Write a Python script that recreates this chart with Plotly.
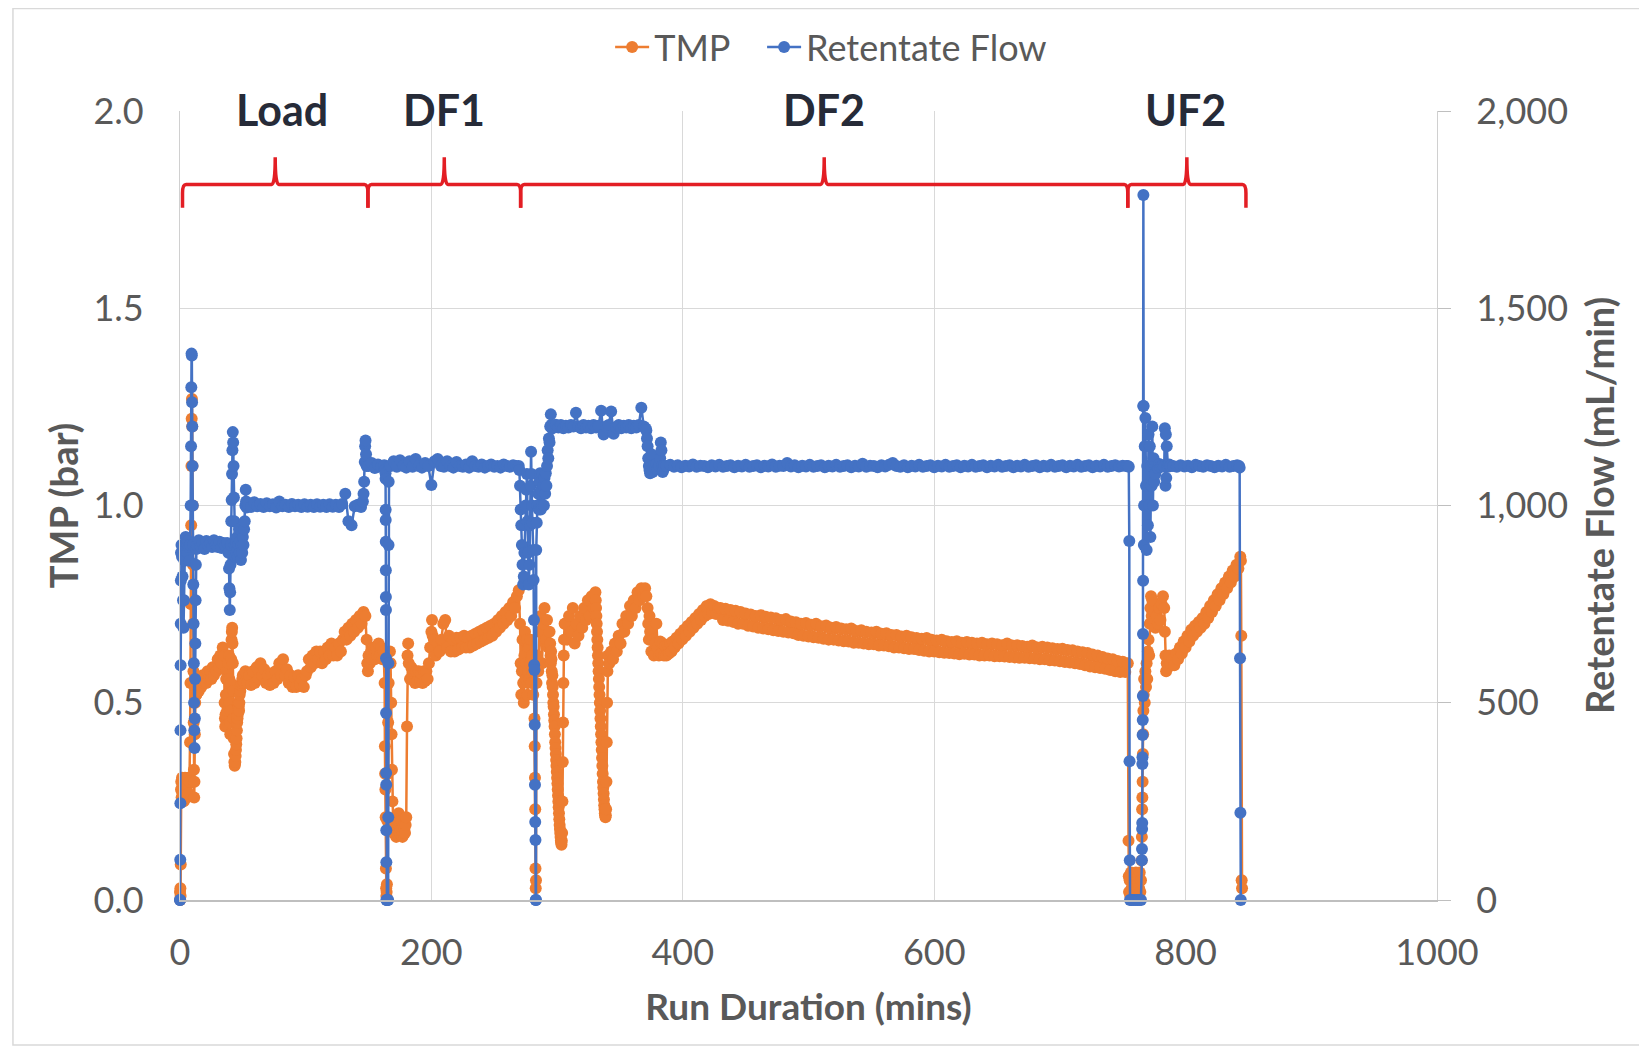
import plotly.graph_objects as go

# ---------------- data ----------------
# TMP (bar): explicit (time, value) pieces and regularly sampled pieces (start, step, values)
TMP_START_PTS = [(0, 0.02), (0.15, 0.0), (0.3, 0.03), (0.45, 0.01), (0.6, 0.09), (0.8, 0.28), (1.0, 0.30), (1.3, 0.26),
                 (1.6, 0.31), (2, 0.27), (2.5, 0.30), (3, 0.25), (3.5, 0.29), (4, 0.31), (4.5, 0.27), (5, 0.30),
                 (5.5, 0.26), (6, 0.29), (6.5, 0.31), (7, 0.27), (7.5, 0.3), (8, 0.4), (8.3, 0.55), (8.6, 0.75),
                 (8.9, 0.95), (9.1, 1.1), (9.3, 1.22), (9.5, 1.27), (9.7, 1.2), (9.9, 1.1), (10.1, 1.0), (10.3, 0.85),
                 (10.5, 0.7), (10.7, 0.58), (10.9, 0.45), (11.1, 0.33), (11.3, 0.26), (11.5, 0.3), (11.8, 0.42),
                 (12.1, 0.5), (12.4, 0.54), (12.8, 0.52)]
TMP_LOAD_A = (13, 1, [0.52, 0.55, 0.53, 0.56, 0.54, 0.57, 0.55, 0.57, 0.55, 0.58, 0.56, 0.58, 0.56, 0.59, 0.57, 0.59,
                      0.58, 0.61, 0.59, 0.62, 0.6, 0.64, 0.62])
TMP_LOAD_DIP = [(35.5, 0.5), (35.75, 0.46), (36, 0.44), (36.25, 0.47), (36.5, 0.52), (36.75, 0.56), (37, 0.58),
                (37.25, 0.52), (37.5, 0.48), (37.75, 0.52), (38, 0.56), (38.5, 0.6), (39, 0.62), (39.25, 0.56),
                (39.5, 0.5), (39.75, 0.45), (40, 0.42), (40.25, 0.48), (40.5, 0.55), (40.75, 0.61), (41, 0.66),
                (41.25, 0.68), (41.5, 0.69), (41.75, 0.65), (42, 0.6), (42.25, 0.53), (42.5, 0.46), (42.75, 0.41),
                (43, 0.37), (43.25, 0.35), (43.5, 0.34), (43.75, 0.345), (44, 0.35), (44.25, 0.365), (44.5, 0.38),
                (44.75, 0.395), (45, 0.41), (45.25, 0.43), (45.5, 0.45), (45.75, 0.46), (46, 0.47), (46.25, 0.49),
                (46.5, 0.5), (46.75, 0.49), (47, 0.48), (47.25, 0.5), (47.5, 0.52), (48, 0.53), (48.5, 0.545),
                (49, 0.55), (49.5, 0.56), (50, 0.57), (50.5, 0.56), (51, 0.55)]
TMP_LOAD_B = (52, 1.5, [0.58, 0.55, 0.57, 0.545, 0.58, 0.55, 0.59, 0.56, 0.60, 0.57, 0.585, 0.55, 0.57, 0.545, 0.575,
                        0.55, 0.58, 0.56, 0.60, 0.57, 0.61, 0.57, 0.585, 0.55, 0.57, 0.54, 0.565, 0.54, 0.57, 0.545,
                        0.56, 0.54, 0.57])
TMP_LOAD_C = (101, 1.5, [0.58, 0.61, 0.59, 0.62, 0.60, 0.63, 0.61, 0.63, 0.60, 0.63, 0.61, 0.64, 0.62, 0.65, 0.62, 0.64,
                         0.62, 0.65, 0.63, 0.66, 0.68, 0.66, 0.69, 0.67, 0.70, 0.68, 0.71, 0.69, 0.72, 0.70, 0.73, 0.72])
TMP_DF1_A = [(148.5, 0.66), (149, 0.60), (149.5, 0.58), (150, 0.62), (151, 0.60), (152, 0.63), (153, 0.61), (154, 0.64),
             (155, 0.61), (156, 0.64), (157, 0.62), (158, 0.65), (159, 0.62), (160, 0.64), (161, 0.61), (162, 0.63)]
TMP_DF1_DROP = [(162.8, 0.55), (163, 0.39), (163.2, 0.32), (163.4, 0.28), (163.6, 0.21), (163.8, 0.08), (164, 0.03),
                (164.2, 0.01), (164.4, 0.02), (164.6, 0.04), (165, 0.2), (165.3, 0.32), (165.6, 0.45), (166, 0.55),
                (166.5, 0.6), (167, 0.63), (167.5, 0.6), (168, 0.5), (168.3, 0.42), (168.6, 0.33), (169, 0.25),
                (169.5, 0.2), (170, 0.17), (170.5, 0.19), (171, 0.21), (171.5, 0.18), (172, 0.16), (172.5, 0.18),
                (173, 0.19), (173.5, 0.21), (174, 0.22), (174.5, 0.19), (175, 0.17), (175.5, 0.18), (176, 0.2),
                (176.5, 0.18), (177, 0.16), (177.5, 0.17), (178, 0.19), (178.5, 0.18), (179, 0.17), (179.5, 0.19),
                (180, 0.21), (180.6, 0.44), (181, 0.62), (181.5, 0.65),
                (182, 0.60), (183, 0.56), (184, 0.59), (185, 0.56), (186, 0.58), (187, 0.55), (188, 0.58), (189, 0.555),
                (190, 0.58), (191, 0.555), (192, 0.575), (193, 0.55), (194, 0.58), (195, 0.555), (196, 0.58),
                (197, 0.56), (198, 0.6), (199, 0.64), (200, 0.68), (200.5, 0.71), (201, 0.67)]
TMP_DF1_B = (202, 1.5, [0.66, 0.62, 0.65, 0.63, 0.66, 0.70, 0.71, 0.64, 0.67, 0.63, 0.66, 0.63, 0.665, 0.635, 0.665,
                        0.64, 0.67, 0.64, 0.665, 0.64, 0.67, 0.645, 0.675, 0.65, 0.68, 0.655, 0.685, 0.66, 0.69, 0.665,
                        0.695, 0.67, 0.70, 0.68, 0.71, 0.69, 0.72, 0.70, 0.73, 0.71, 0.74, 0.72, 0.755, 0.74, 0.77,
                        0.785])
TMP_DF2_START = [(270.5, 0.7), (271, 0.6), (271.5, 0.52), (272, 0.58), (272.5, 0.66), (273, 0.55), (273.5, 0.50),
                 (274, 0.62), (274.5, 0.68), (275, 0.56), (275.5, 0.6), (276, 0.66), (276.5, 0.52), (277, 0.58),
                 (277.5, 0.64), (278, 0.56), (278.5, 0.6), (279, 0.66), (279.5, 0.55), (280, 0.62), (280.5, 0.58),
                 (281, 0.52), (281.5, 0.6), (282, 0.46), (282.2, 0.39), (282.4, 0.31), (282.6, 0.23), (282.8, 0.08),
                 (283, 0.03), (283.2, 0.05), (283.6, 0.55), (284, 0.62), (285, 0.58), (286, 0.68), (287, 0.72),
                 (288, 0.6), (289, 0.7), (290, 0.74), (291, 0.66), (292, 0.71), (293, 0.64), (294, 0.68)]
TMP_DF2_DIP1 = [(294.5, 0.65), (294.75, 0.62), (295, 0.60), (295.25, 0.63), (295.5, 0.61), (295.75, 0.58),
                (296, 0.55), (296.25, 0.57), (296.5, 0.54), (296.75, 0.52), (297, 0.50), (297.25, 0.49),
                (297.5, 0.47), (297.75, 0.455), (298, 0.44), (298.25, 0.42), (298.5, 0.40), (298.75, 0.385),
                (299, 0.37), (299.25, 0.355), (299.5, 0.34), (299.75, 0.325), (300, 0.31), (300.25, 0.295),
                (300.5, 0.28), (300.75, 0.265), (301, 0.25), (301.25, 0.235), (301.5, 0.22), (301.75, 0.205),
                (302, 0.19), (302.25, 0.18), (302.5, 0.17), (302.75, 0.16), (303, 0.15), (303.25, 0.145),
                (303.5, 0.14), (303.75, 0.15), (304, 0.17), (304.25, 0.25), (304.5, 0.35), (304.75, 0.45),
                (305, 0.55), (305.25, 0.62), (305.5, 0.66), (306, 0.70)]
TMP_DF2_A = (306.5, 1.5, [0.70, 0.66, 0.72, 0.68, 0.74, 0.65, 0.70, 0.67, 0.72, 0.69, 0.74, 0.71, 0.76, 0.72, 0.77,
                          0.74])
TMP_DF2_DIP2 = [(330.5, 0.78), (330.75, 0.76), (331, 0.74), (331.25, 0.72), (331.5, 0.70), (331.75, 0.68),
                (332, 0.66), (332.25, 0.64), (332.5, 0.62), (332.75, 0.60), (333, 0.58), (333.25, 0.56),
                (333.5, 0.54), (333.75, 0.52), (334, 0.50), (334.25, 0.48), (334.5, 0.46), (334.75, 0.44),
                (335, 0.42), (335.25, 0.40), (335.5, 0.38), (335.75, 0.36), (336, 0.34), (336.25, 0.32),
                (336.5, 0.30), (336.75, 0.285), (337, 0.27), (337.25, 0.255), (337.5, 0.24), (337.75, 0.23),
                (338, 0.22), (338.25, 0.215), (338.5, 0.21), (338.75, 0.215), (339, 0.23), (339.25, 0.3),
                (339.5, 0.4), (339.75, 0.5), (340, 0.58), (340.5, 0.62)]
TMP_DF2_B = (341.5, 1.5, [0.60, 0.63, 0.61, 0.65, 0.63, 0.67, 0.65, 0.70, 0.68, 0.72, 0.70, 0.745, 0.72, 0.76, 0.74,
                          0.78, 0.76, 0.79, 0.77, 0.79])
TMP_DF2_STEP = [(371, 0.77), (372, 0.74), (372.5, 0.70), (373, 0.66), (373.5, 0.72), (374, 0.68), (375, 0.63),
                (376, 0.66), (377, 0.62), (378, 0.65), (379, 0.70), (380, 0.64), (381, 0.62), (382, 0.655),
                (383, 0.625), (384, 0.65), (385, 0.62), (386, 0.645), (387, 0.62), (388, 0.645), (389, 0.625),
                (390, 0.65), (391, 0.63), (392, 0.655)]
TMP_DF2_C = (393.5, 1.5, [0.64, 0.665, 0.65, 0.675, 0.66, 0.685, 0.67, 0.695, 0.68, 0.705, 0.69, 0.715, 0.70, 0.725,
                          0.71, 0.735, 0.72, 0.745, 0.725, 0.75, 0.73, 0.745, 0.725, 0.74])
TMP_DF2_D = (430, 2, [0.74, 0.71, 0.738, 0.708, 0.735, 0.705, 0.733, 0.70, 0.73, 0.70,
                      0.726, 0.695, 0.724, 0.693, 0.72, 0.69, 0.722, 0.688, 0.718, 0.686,
                      0.716, 0.684, 0.714, 0.682, 0.71, 0.68, 0.712, 0.678, 0.706, 0.676,
                      0.704, 0.672, 0.70, 0.67, 0.702, 0.668, 0.698, 0.666, 0.70, 0.665,
                      0.694, 0.662, 0.696, 0.66, 0.69, 0.66, 0.692, 0.658, 0.688, 0.656,
                      0.686, 0.655, 0.688, 0.652, 0.682, 0.652, 0.684, 0.65, 0.68, 0.648,
                      0.678, 0.648, 0.68, 0.645, 0.675, 0.645, 0.676, 0.643, 0.672, 0.64,
                      0.672, 0.64, 0.668, 0.638, 0.67, 0.636, 0.666, 0.636, 0.664, 0.634,
                      0.662, 0.632, 0.664, 0.63, 0.66, 0.63, 0.658, 0.628, 0.66, 0.627,
                      0.656, 0.626, 0.654, 0.625, 0.656, 0.623, 0.652, 0.624, 0.654, 0.622,
                      0.652, 0.622, 0.65, 0.62, 0.652, 0.62, 0.648, 0.62, 0.65, 0.618,
                      0.648, 0.618, 0.646, 0.617, 0.65, 0.616, 0.645, 0.615, 0.646, 0.614,
                      0.644, 0.614, 0.642, 0.613, 0.645, 0.612, 0.64, 0.61, 0.642, 0.61,
                      0.64, 0.608, 0.638, 0.607, 0.636, 0.605, 0.637, 0.603, 0.634, 0.602,
                      0.633, 0.60, 0.63, 0.598, 0.628, 0.595, 0.626, 0.592, 0.622, 0.59,
                      0.62, 0.588, 0.616, 0.586, 0.612, 0.583, 0.61, 0.58, 0.606, 0.578,
                      0.604, 0.578, 0.60])
TMP_UF2_START = [(754.6, 0.15), (754.8, 0.06), (755, 0.02), (755.5, 0.05), (756, 0.01), (756.5, 0.07), (757, 0.03),
                 (757.5, 0.06), (758, 0.02), (758.5, 0.05), (759, 0.01), (759.5, 0.06), (760, 0.03), (760.5, 0.07),
                 (761, 0.02), (761.5, 0.05), (762, 0.01), (762.5, 0.06), (763, 0.03), (763.5, 0.07), (764, 0.02),
                 (764.5, 0.05), (765, 0.1), (765.2, 0.16), (765.4, 0.23), (765.6, 0.26), (765.8, 0.30), (766, 0.37),
                 (766.2, 0.42), (766.4, 0.48), (766.7, 0.52), (767, 0.56), (767.5, 0.50), (768, 0.58), (768.5, 0.54),
                 (769, 0.60), (769.5, 0.56), (770, 0.63), (770.5, 0.66), (771, 0.62), (771.5, 0.70), (772, 0.74),
                 (772.5, 0.77), (773, 0.72), (773.5, 0.76), (774, 0.70), (775, 0.73), (776, 0.69), (777, 0.72),
                 (778, 0.70), (779, 0.74), (780, 0.71), (781, 0.75), (782, 0.77), (783, 0.74), (783.5, 0.68),
                 (784, 0.62), (784.5, 0.58), (785, 0.6), (786, 0.59), (787, 0.62), (788, 0.60)]
TMP_UF2_A = (789.5, 1.5, [0.61, 0.595, 0.625, 0.61, 0.64, 0.625, 0.655, 0.64, 0.67, 0.655, 0.685, 0.67, 0.695, 0.68,
                          0.705, 0.69, 0.715, 0.70, 0.73, 0.715, 0.745, 0.73, 0.76, 0.745, 0.775, 0.76, 0.79, 0.775,
                          0.805, 0.79, 0.82, 0.805, 0.835, 0.82, 0.85, 0.84, 0.87])
TMP_END = [(844, 0.86), (844.3, 0.67), (844.6, 0.05), (844.9, 0.03)]

# Retentate flow (mL/min)
FLOW_START_PTS = [(0, 0), (0.1, 0), (0.2, 102), (0.3, 245), (0.4, 430), (0.5, 595), (0.6, 700), (0.7, 810),
                  (0.8, 880), (1.2, 900), (1.6, 870), (2, 820), (2.4, 760), (2.8, 690), (3.2, 760), (3.6, 860),
                  (4, 900), (4.5, 920), (5, 890), (5.5, 905), (6, 880), (6.5, 910), (7, 895), (7.5, 860), (8, 900),
                  (8.5, 1000), (8.8, 1150), (9, 1300), (9.2, 1385), (9.4, 1380), (9.6, 1262), (9.8, 1200),
                  (10, 1100), (10.2, 1000), (10.4, 900), (10.6, 800), (10.8, 700), (11, 600), (11.2, 500),
                  (11.4, 430), (11.6, 385), (11.8, 460), (12, 560), (12.2, 650), (12.4, 760), (12.6, 850), (13, 890)]
FLOW_LOAD_A = (13.5, 1.5, [900, 912, 895, 905, 890, 910, 898, 905, 895, 912, 900, 895, 908, 892, 905, 898, 905])
FLOW_LOAD_SPIKE = [(38.5, 880), (39, 840), (39.3, 790), (39.6, 735), (39.9, 780), (40.2, 850), (40.5, 900),
                   (40.8, 960), (41.1, 1014), (41.4, 1080), (41.7, 1140), (42, 1186), (42.3, 1160), (42.6, 1100),
                   (42.9, 1020), (43.2, 960), (43.5, 900), (44, 870), (44.5, 905), (45, 880), (45.5, 920), (46, 870),
                   (46.5, 900), (47, 940), (47.5, 880), (48, 910), (48.5, 862), (49, 900), (49.5, 880), (50, 920),
                   (50.5, 900), (51, 940), (51.5, 960), (52, 1000), (52.3, 1040), (52.6, 1010), (53, 995)]
FLOW_LOAD_B = (54, 2.5, [1002, 996, 1008, 998, 1004, 996, 1006, 998, 1003, 995, 1010, 998, 1002, 996, 1004, 998,
                         1002, 996, 1003, 997, 1002, 996, 1003, 997, 1002, 996, 1003, 997, 1002, 996, 1004, 1030,
                         960, 950, 998, 1002, 996])
FLOW_STEP_UP = [(145.5, 1010), (146, 1030), (146.5, 1060), (147, 1110), (147.3, 1150), (147.6, 1165), (148, 1130),
                (148.5, 1100)]
FLOW_DF1_A = (150, 2.5, [1100, 1108, 1095, 1104, 1098, 1102])
FLOW_DF1_DROP = [(163, 1090), (163.5, 1082), (163.55, 1068), (163.6, 989), (163.65, 963), (163.7, 908), (163.75, 836),
                 (163.8, 768), (163.85, 735), (163.9, 613), (163.95, 474), (164.0, 322), (164.05, 292),
                 (164.1, 177), (164.15, 96), (164.2, 0), (164.6, 0), (165.0, 0), (165.6, 0), (165.7, 210),
                 (165.8, 600), (165.9, 900), (166.0, 1060), (166.3, 1100)]
FLOW_DF1_B = (167.5, 2.5, [1100, 1112, 1098, 1115, 1100, 1096, 1112, 1098, 1118, 1100, 1096, 1108, 1100, 1052, 1112,
                           1118, 1100, 1098, 1112, 1100, 1096, 1110, 1100, 1098, 1104, 1096, 1112, 1100, 1098, 1104,
                           1096, 1100, 1104, 1098, 1100, 1096, 1104, 1100, 1098, 1102, 1100])
FLOW_DF2_START = [(269.5, 1100), (270, 1090), (270.5, 1050), (271, 990), (271.5, 950), (272, 900), (272.5, 850),
                  (273, 800), (273.5, 820), (274, 880), (274.5, 950), (275, 1000), (275.5, 1040), (276, 1080),
                  (276.5, 960), (277, 880), (277.5, 800), (278, 850), (278.5, 950), (279, 1050), (279.3, 1136),
                  (279.6, 1080), (280, 1000), (280.5, 956), (281, 887), (281.3, 811), (281.6, 710), (281.8, 596),
                  (282, 583), (282.2, 444), (282.4, 292), (282.6, 198), (282.8, 152), (283, 0), (283.2, 0),
                  (283.4, 887), (283.8, 956), (284.3, 1000), (285, 1030), (285.5, 990), (286, 1060), (286.5, 1082),
                  (287, 990), (287.5, 1040), (288, 1000), (288.5, 1080), (289, 1050), (289.5, 1000), (290, 1070),
                  (290.5, 1030), (291, 1082), (291.5, 1050), (292, 1100), (292.5, 1140), (293, 1120), (293.5, 1170),
                  (294, 1160), (294.5, 1200), (295, 1231), (295.5, 1205), (296, 1195)]
FLOW_DF2_A = (297, 2, [1200, 1205, 1198, 1204, 1196, 1202, 1198, 1204, 1200, 1235,
                       1200, 1196, 1204, 1198, 1202, 1196, 1204, 1198, 1202, 1240,
                       1180, 1200, 1204, 1238, 1182, 1198, 1204, 1196, 1202, 1198,
                       1204, 1196, 1202, 1198, 1204, 1248, 1200])
FLOW_DF2_STEP = [(370.5, 1195), (371, 1190), (371.5, 1170), (372, 1150), (372.5, 1120), (373, 1100), (373.5, 1090),
                 (374, 1082), (374.5, 1110), (375, 1130), (375.5, 1100), (376, 1085), (376.5, 1090), (377, 1100),
                 (378, 1095), (379, 1105), (380, 1092), (381, 1100), (382, 1120), (382.5, 1160), (383, 1140),
                 (383.5, 1100), (384, 1085), (384.5, 1090), (385, 1100)]
FLOW_DF2_B = (387, 3, [1100, 1103, 1098, 1102, 1097, 1101, 1099, 1104, 1098, 1101,
                       1100, 1097, 1102, 1099, 1103, 1098, 1100, 1102, 1097, 1101,
                       1099, 1103, 1098, 1100, 1102, 1097, 1101, 1099, 1104, 1098,
                       1101, 1100, 1108, 1099, 1102, 1097, 1101, 1099, 1103, 1098,
                       1100, 1102, 1097, 1101, 1099, 1103, 1098, 1100, 1102, 1097,
                       1101, 1099, 1106, 1098, 1101, 1100, 1097, 1102, 1099, 1103,
                       1108, 1100, 1098, 1102, 1097, 1101, 1099, 1103, 1098, 1100,
                       1102, 1097, 1101, 1099, 1103, 1098, 1100, 1102, 1097, 1101,
                       1099, 1103, 1098, 1100, 1102, 1097, 1101, 1099, 1103, 1098,
                       1100, 1102, 1097, 1101, 1099, 1103, 1098, 1100, 1102, 1097,
                       1101, 1099, 1103, 1098, 1100, 1102, 1097, 1101, 1099, 1103,
                       1098, 1100, 1102, 1097, 1101, 1099, 1103, 1098, 1100, 1102,
                       1099, 1101, 1100])
FLOW_UF2_START = [(754, 1100), (754.8, 1098), (755.2, 910), (755.4, 352), (755.6, 101), (755.8, 0), (757, 0),
                  (758.5, 0), (760, 0), (761.5, 0), (763, 0), (764.5, 0), (765.2, 101), (765.3, 129), (765.4, 180),
                  (765.5, 195), (765.6, 345), (765.7, 362), (765.8, 418), (765.9, 456), (766, 517), (766.1, 674),
                  (766.2, 809), (766.3, 1252), (766.4, 1787), (766.6, 1252), (766.8, 900), (767, 1000),
                  (767.5, 1150), (768, 1222), (768.5, 1050), (769, 887), (769.5, 1100), (770, 950), (770.5, 1180),
                  (771, 1000), (771.5, 1150), (772, 920), (772.5, 1100), (773, 1050), (773.5, 1200), (774, 1000),
                  (774.5, 1120), (775, 1060), (775.5, 1100), (776, 1080), (777, 1100), (778, 1095), (779, 1105),
                  (780, 1098), (781, 1100), (782, 1102), (783, 1098), (783.5, 1196), (784, 1050), (784.3, 1180),
                  (784.6, 1070), (785, 1150), (785.5, 1100), (786, 1098), (787, 1104), (788, 1100)]
FLOW_UF2_A = (790, 3, [1100, 1098, 1102, 1099, 1101, 1097, 1103, 1100, 1098, 1102, 1100, 1097, 1101, 1099, 1103,
                       1098, 1100, 1102])
FLOW_END = [(842.5, 1100), (843, 1096), (843.3, 613), (843.6, 221), (843.9, 0)]

# Process phases (minutes) for the bracket annotations
PHASE_NAMES = ["Load", "DF1", "DF2", "UF2"]
PHASE_START = [2, 149.5, 271, 754]
PHASE_END = [149.5, 271, 754, 848]
PHASE_LABEL_X = [81, 210, 512, 800]

X_TICKS = [0, 200, 400, 600, 800, 1000]


# ---------------- assembly ----------------
def pts(p):
    return [a for a, _ in p], [b for _, b in p]


def grid(g):
    start, step, vals = g
    return [start + step * i for i in range(len(vals))], list(vals)


def build(pieces):
    xs, ys = [], []
    for kind, piece in pieces:
        x, y = pts(piece) if kind == "p" else grid(piece)
        xs += x
        ys += y
    return xs, ys


tmp_x, tmp_y = build([("p", TMP_START_PTS), ("g", TMP_LOAD_A), ("p", TMP_LOAD_DIP), ("g", TMP_LOAD_B),
                      ("g", TMP_LOAD_C), ("p", TMP_DF1_A), ("p", TMP_DF1_DROP), ("g", TMP_DF1_B),
                      ("p", TMP_DF2_START), ("p", TMP_DF2_DIP1), ("g", TMP_DF2_A), ("p", TMP_DF2_DIP2),
                      ("g", TMP_DF2_B), ("p", TMP_DF2_STEP), ("g", TMP_DF2_C), ("g", TMP_DF2_D),
                      ("p", TMP_UF2_START), ("g", TMP_UF2_A), ("p", TMP_END)])
flow_x, flow_y = build([("p", FLOW_START_PTS), ("g", FLOW_LOAD_A), ("p", FLOW_LOAD_SPIKE), ("g", FLOW_LOAD_B),
                        ("p", FLOW_STEP_UP), ("g", FLOW_DF1_A), ("p", FLOW_DF1_DROP), ("g", FLOW_DF1_B),
                        ("p", FLOW_DF2_START), ("g", FLOW_DF2_A), ("p", FLOW_DF2_STEP), ("g", FLOW_DF2_B),
                        ("p", FLOW_UF2_START), ("g", FLOW_UF2_A), ("p", FLOW_END)])

ORANGE = "#ED7D31"
BLUE = "#4472C4"
GRAY = "#595959"
FONT = "Lato"
NBSP = "\u00a0"

fig = go.Figure()
fig.add_trace(go.Scatter(x=tmp_x, y=tmp_y, name="TMP" + NBSP * 3, mode="lines+markers",
                         line=dict(color=ORANGE, width=2.5), marker=dict(color=ORANGE, size=12),
                         cliponaxis=False))
fig.add_trace(go.Scatter(x=flow_x, y=flow_y, name="Retentate Flow", mode="lines+markers", yaxis="y2",
                         line=dict(color=BLUE, width=2.5), marker=dict(color=BLUE, size=12),
                         cliponaxis=False))

# brackets
Y_TIP, Y_BAR, Y_PEAK = 1.755, 1.814, 1.883
R = 2.8
shapes = []
annotations = []
for name, a, b, lx in zip(PHASE_NAMES, PHASE_START, PHASE_END, PHASE_LABEL_X):
    m = (a + b) / 2
    path = (f"M {a},{Y_TIP} L {a},{Y_BAR - 0.022} Q {a},{Y_BAR} {a + R},{Y_BAR} "
            f"L {m - R},{Y_BAR} Q {m},{Y_BAR} {m},{Y_PEAK} Q {m},{Y_BAR} {m + R},{Y_BAR} "
            f"L {b - R},{Y_BAR} Q {b},{Y_BAR} {b},{Y_BAR - 0.022} L {b},{Y_TIP}")
    shapes.append(dict(type="path", path=path, xref="x", yref="y",
                       line=dict(color="#E31E24", width=3.5)))
    annotations.append(dict(x=lx, y=2.0, xref="x", yref="y", text=f"<b>{name}</b>", showarrow=False,
                            font=dict(family=FONT, size=43, color="#262B38"), yanchor="middle", yshift=2))

# chart-area border
shapes.append(dict(type="rect", xref="paper", yref="paper", x0=-0.1329, x1=1.1655, y0=-0.1838, y1=1.1299,
                   line=dict(color="#D9D9D9", width=1.5), layer="below"))

fig.update_layout(
    width=1639, height=1039,
    margin=dict(l=172, r=210, t=103, b=147, autoexpand=False),
    paper_bgcolor="white", plot_bgcolor="white",
    font=dict(family=FONT, color=GRAY, size=36),
    showlegend=True,
    legend=dict(orientation="h", x=0.518, xanchor="center", y=1.081, yanchor="middle",
                font=dict(family=FONT, size=36, color=GRAY), bgcolor="rgba(0,0,0,0)", itemwidth=34),
    xaxis=dict(range=[0, 1000], tickvals=X_TICKS, showgrid=True, gridcolor="#D9D9D9", gridwidth=1.3,
               showline=True, linecolor="#BFBFBF", linewidth=1.5, zeroline=False, automargin=False,
               ticks="outside", ticklen=20, tickcolor="rgba(0,0,0,0)",
               tickfont=dict(family=FONT, size=36, color=GRAY),
               title=dict(text="<b>Run Duration (mins)</b>", font=dict(family=FONT, size=37, color=GRAY),
                          standoff=22)),
    yaxis=dict(range=[0, 2], tickvals=[0, 0.5, 1.0, 1.5, 2.0], tickformat=".1f", showgrid=True,
               gridcolor="#D9D9D9", gridwidth=1.3, showline=True, linecolor="#D0D0D0", linewidth=1.3,
               zeroline=False, automargin=False, ticks="outside", ticklen=28, tickcolor="rgba(0,0,0,0)",
               tickfont=dict(family=FONT, size=36, color=GRAY),
               title=dict(text="<b>TMP (bar)</b>", font=dict(family=FONT, size=38, color=GRAY), standoff=3)),
    yaxis2=dict(range=[0, 2000], tickvals=[0, 500, 1000, 1500, 2000], tickformat=",", overlaying="y",
                side="right", showgrid=False, showline=True, linecolor="#D0D0D0", linewidth=1.3, zeroline=False,
                automargin=False, ticks="outside", ticklen=13, tickcolor="#BFBFBF", tickwidth=1.3,
                ticklabelstandoff=18, tickfont=dict(family=FONT, size=36, color=GRAY),
                title=dict(text="<b>Retentate Flow (mL/min)</b>", font=dict(family=FONT, size=38, color=GRAY),
                           standoff=20)),
    shapes=shapes,
    annotations=annotations,
)

fig.write_html("out.html")
